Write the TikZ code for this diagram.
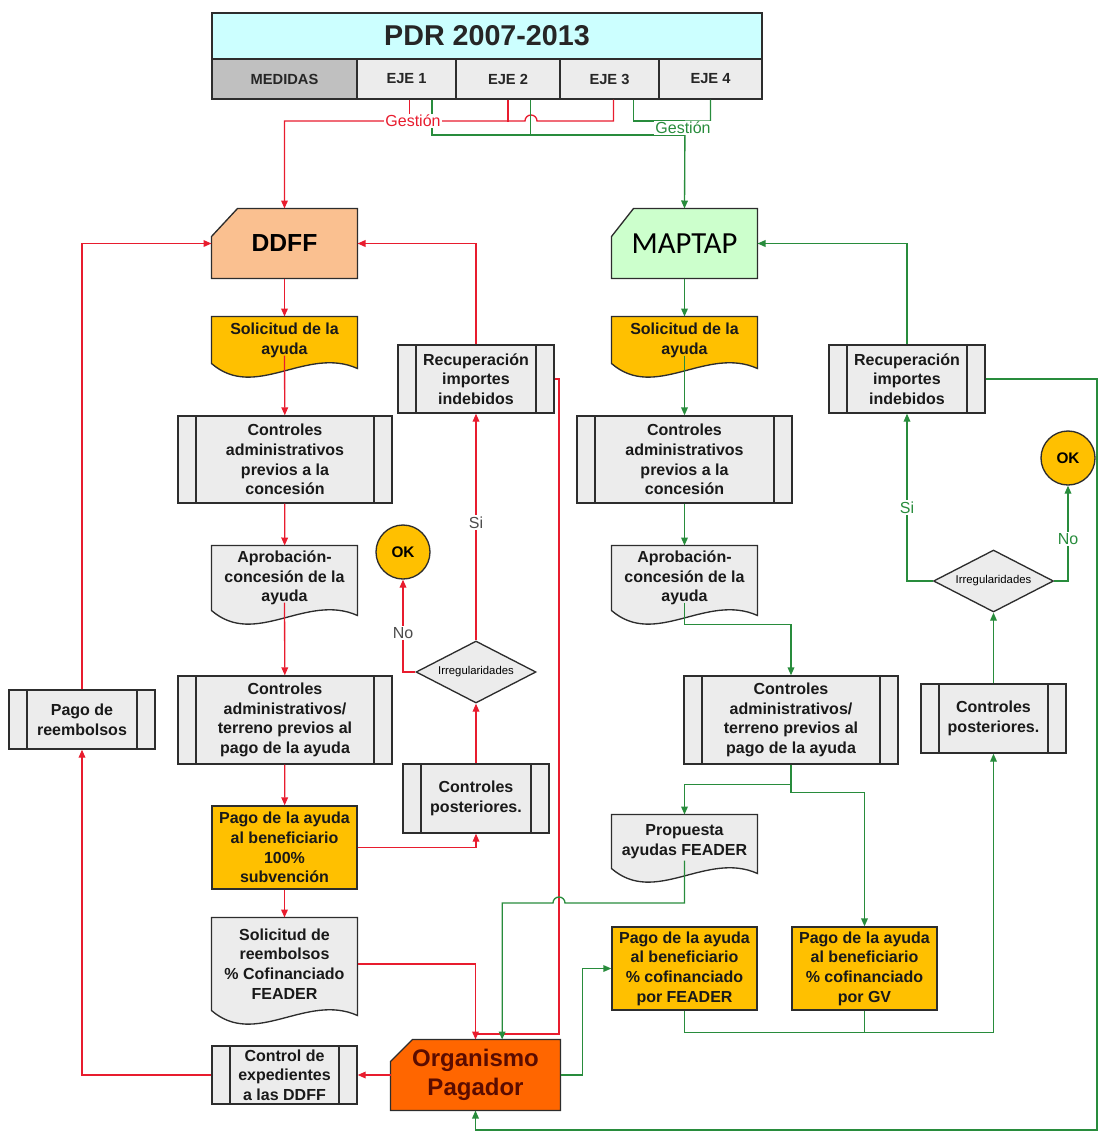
\documentclass[tikz,border=0pt]{standalone}
\usepackage{fontspec}
\setmainfont{Liberation Sans}
\newfontfamily\mapfont{Carlito}
\usetikzlibrary{arrows.meta,calc,backgrounds,shapes.geometric}

\definecolor{boxline}{RGB}{45,45,45}
\definecolor{boxgray}{RGB}{236,236,236}
\definecolor{gold}{RGB}{255,192,0}
\definecolor{peach}{RGB}{250,192,144}
\definecolor{mint}{RGB}{204,255,204}
\definecolor{orangeop}{RGB}{255,102,0}
\definecolor{cyanhead}{RGB}{204,255,255}
\definecolor{medgray}{RGB}{192,192,192}
\definecolor{linered}{RGB}{232,28,46}
\definecolor{linegreen}{RGB}{40,140,60}
\definecolor{optext}{RGB}{90,12,0}

\tikzset{every picture/.style={line width=0.75pt}}
\tikzset{
	sz/.style 2 args={minimum width=#1*0.75pt, minimum height=#2*0.75pt},
	boxtxt/.style={font=\fontsize{12}{14.8}\selectfont\bfseries, text=black!90, align=center, inner sep=0pt},
	procbox/.style={boxtxt, draw=boxline, line width=1pt, fill=boxgray,
		path picture={\draw[boxline, line width=1pt]
			([xshift=13.5pt]path picture bounding box.north west) -- ([xshift=13.5pt]path picture bounding box.south west)
			([xshift=-13.5pt]path picture bounding box.north east) -- ([xshift=-13.5pt]path picture bounding box.south east);}},
	goldbox/.style={boxtxt, draw=boxline, line width=1pt, fill=gold},
	docbox/.style={boxtxt},
	cutnode/.style={inner sep=0pt, align=center},
	headcell/.style={draw=boxline, line width=1pt, text=black!85, inner sep=0pt, font=\fontsize{11}{13}\selectfont\bfseries},
	okcirc/.style={circle, draw=boxline, line width=1pt, fill=gold, minimum size=40.5pt, inner sep=0pt, font=\fontsize{11.5}{13}\selectfont\bfseries},
	decis/.style={diamond, aspect=2, draw=boxline, line width=1pt, fill=boxgray, inner sep=0pt, font=\fontsize{8.5}{10}\selectfont},
	lbl/.style={fill=white, inner sep=1pt, font=\fontsize{12}{14}\selectfont},
	rline/.style={draw=linered, line width=1pt},
	rarr/.style={rline, -{Triangle[length=6pt,width=5pt]}},
	gline/.style={draw=linegreen, line width=1pt},
	garr/.style={gline, -{Triangle[length=6pt,width=5pt]}}
}

% document shape: wavy bottom, drawn behind the node
\newcommand{\docwave}[2]{%
	\begin{pgfonlayer}{background}
		\filldraw[fill=#2, draw=boxline, line width=1pt] ($(#1.south east)+(0,5)$) -- (#1.north east) -- (#1.north west) -- (#1.south west)
		.. controls ($(#1.south west)!0.3!(#1.south east)+(0,38)$) and ($(#1.south west)!0.65!(#1.south east)+(0,-18)$) .. ($(#1.south east)+(0,5)$) -- cycle;
	\end{pgfonlayer}}
% box with cut top left corner
\newcommand{\cutbox}[4]{%
	\begin{pgfonlayer}{background}
		\filldraw[fill=#2, draw=boxline, line width=1pt] ($(#1.north west)+(0,#4)$) -- ($(#1.north west)+(#3,0)$) -- (#1.north east) -- (#1.south east) -- (#1.south west) -- cycle;
	\end{pgfonlayer}}

\begin{document}
\begin{tikzpicture}[x=0.75pt,y=0.75pt,yscale=-1,xscale=1]
	\useasboundingbox (0,0) rectangle (1099,1133);

	% Header
	\node[headcell, fill=cyanhead, sz={550}{46}, font=\fontsize{21.5}{24}\selectfont\bfseries] (title) at (487,36) {PDR 2007-2013};
	\node[headcell, fill=medgray, sz={145}{40}] (medidas) at (284.5,79) {MEDIDAS};
	\node[headcell, fill=boxgray, sz={99}{40}] (eje1) at (406.5,79) {EJE 1};
	\node[headcell, fill=boxgray, sz={104}{40}] (eje2) at (508,79) {EJE 2};
	\node[headcell, fill=boxgray, sz={99}{40}] (eje3) at (609.5,79) {EJE 3};
	\node[headcell, fill=boxgray, sz={103}{40}] (eje4) at (710.5,79) {EJE 4};

	% Left column: DDFF
	\node[cutnode, sz={145}{69}, font=\fontsize{18.5}{20}\selectfont\bfseries] (ddff) at (284.5,243.5) {DDFF};
	\node[docbox, sz={145}{46}] (sol1) at (284.5,340) {Solicitud de la\\ayuda};
	\node[procbox, sz={214}{87}] (ctr1) at (285,459.5) {Controles\\administrativos\\previos a la\\concesión};
	\node[docbox, sz={145}{64}] (apr1) at (284.5,578) {Aprobación-\\concesión de la\\ayuda};
	\node[procbox, sz={214}{88}] (ter1) at (285,720) {Controles\\administrativos/\\terreno previos al\\pago de la ayuda};
	\node[goldbox, sz={145}{83}] (pago1) at (284.5,847.5) {Pago de la ayuda\\al beneficiario\\100\%\\subvención};
	\node[docbox, sz={145}{92}] (reem) at (284.5,964) {Solicitud de\\reembolsos\\\% Cofinanciado\\FEADER};
	\node[procbox, sz={145}{58}] (cexp) at (284.5,1075) {Control de\\expedientes\\a las DDFF};
	\node[cutnode, sz={169}{70}, text=optext, font=\fontsize{18}{22}\selectfont\bfseries] (orgp) at (475.5,1075) {Organismo\\Pagador};
	\node[procbox, sz={146}{59}] (preem) at (82,719.5) {Pago de\\reembolsos};
	\node[procbox, sz={156}{68}] (rec1) at (476,379) {Recuperación\\importes\\indebidos};
	\node[okcirc] (ok1) at (403,552) {OK};
	\node[decis, sz={120}{62}] (irr1) at (476,672) {Irregularidades};
	\node[procbox, sz={146}{69}] (cpos1) at (476,798.5) {Controles\\posteriores.};

	% Right column: MAPTAP
	\node[cutnode, sz={145}{69}, font=\mapfont\fontsize{23}{25}\selectfont] (maptap) at (684.5,243.5) {MAPTAP};
	\node[docbox, sz={145}{46}] (sol2) at (684.5,340) {Solicitud de la\\ayuda};
	\node[procbox, sz={215}{87}] (ctr2) at (684.5,459.5) {Controles\\administrativos\\previos a la\\concesión};
	\node[docbox, sz={145}{64}] (apr2) at (684.5,578) {Aprobación-\\concesión de la\\ayuda};
	\node[procbox, sz={214}{88}] (ter2) at (791,720) {Controles\\administrativos/\\terreno previos al\\pago de la ayuda};
	\node[docbox, sz={145}{53}] (prop) at (684.5,841.5) {Propuesta\\ayudas FEADER};
	\node[goldbox, sz={145}{83}] (pfea) at (684.5,968.5) {Pago de la ayuda\\al beneficiario\\\% cofinanciado\\por FEADER};
	\node[goldbox, sz={145}{83}] (pgv) at (864.5,968.5) {Pago de la ayuda\\al beneficiario\\\% cofinanciado\\por GV};
	\node[procbox, sz={145}{69}] (cpos2) at (993.5,718.5) {Controles\\posteriores.};
	\node[decis, sz={120}{62}] (irr2) at (993.5,581) {Irregularidades};
	\node[okcirc] (ok2) at (1068,458) {OK};
	\node[procbox, sz={156}{68}] (rec2) at (907,379) {Recuperación\\importes\\indebidos};

	% Shapes behind the nodes
	\docwave{sol1}{gold}
	\docwave{apr1}{boxgray}
	\docwave{reem}{boxgray}
	\docwave{sol2}{gold}
	\docwave{apr2}{boxgray}
	\docwave{prop}{boxgray}
	\cutbox{ddff}{peach}{26}{28}
	\cutbox{maptap}{mint}{22}{28}
	\cutbox{orgp}{orangeop}{22}{22}

	\coordinate (gj1) at (685,121);
	\coordinate (gj2) at (685,135);
	\coordinate (rj) at (559,1034);
	\coordinate (edge) at (1097,1130);

	% Gestion lines from the header
	\draw[rline] ([xshift=2pt]eje1.south) -- ++(0,22);
	\draw[rline] (eje2.south) -- ++(0,22);
	\draw[rarr] ([xshift=3pt]eje3.south) |- (537,121) arc[start angle=0, end angle=-180, radius=6] -| (ddff.north);
	\draw[gline] ([xshift=19pt]eje1.south) |- (gj2);
	\draw[gline] ([xshift=17pt]eje2.south) -- ++(0,36);
	\draw[gline] ([xshift=18pt]eje3.south) |- (gj1);
	\draw[garr] (eje4.south) |- (gj1) -- (maptap.north);
	\node[lbl, text=linered] (gesr) at (413,121) {Gestión};
	\node[lbl, text=linegreen] (gesg) at (683,128) {Gestión};

	% Left flow
	\draw[rarr] (ddff) -- (sol1);
	\draw[rarr] ([yshift=-6pt]sol1.south) -- (ctr1);
	\draw[rarr] (ctr1) -- (apr1);
	\draw[rarr] ([yshift=-6pt]apr1.south) -- (ter1);
	\draw[rarr] (ter1) -- (pago1);
	\draw[rarr] (pago1) -- (reem);
	\draw[rarr] (pago1.east) -| (cpos1.south);
	\draw[rarr] (cpos1) -- (irr1);
	\draw[rarr] (irr1) -- (rec1) node[lbl, text=black!70, pos=0.52] (si1) {Si};
	\draw[rarr] (irr1.west) -| (ok1.south) node[lbl, text=black!70, pos=0.71] (no1) {No};
	\draw[rarr] (rec1.north) |- (ddff.east);
	\draw[rline] (rec1.east) -| (rj) -- (rj -| orgp.north);
	\draw[rarr] (reem.east) -| (orgp.north);
	\draw[rarr] (orgp.west) -- (cexp.east);
	\draw[rarr] (cexp.west) -| (preem.south);
	\draw[rarr] (preem.north) |- (ddff.west);

	% Right flow
	\draw[garr] (maptap) -- (sol2);
	\draw[garr] ([yshift=-6pt]sol2.south) -- (ctr2);
	\draw[garr] (ctr2) -- (apr2);
	\draw[garr] ([yshift=-6pt]apr2.south) -- ++(0,22) -| (ter2.north);
	\draw[garr] (ter2.south) -- ++(0,20) -| (prop.north);
	\draw[garr] (ter2.south) -- ++(0,28) -| (pgv.north);
	\draw[garr] ([yshift=-6pt]prop.south) |- (565,903) arc[start angle=0, end angle=-180, radius=6] -| ([xshift=20pt]orgp.north);
	\draw[garr] (orgp.east) -- ++(22,0) |- (pfea.west);
	\draw[garr] (pfea.south) -- ++(0,22) -| (cpos2.south);
	\draw[gline] (pgv.south) -- ++(0,22);
	\draw[garr] (cpos2) -- (irr2);
	\draw[garr] (irr2.west) -| (rec2.south) node[lbl, text=linegreen, pos=0.72] (si2) {Si};
	\draw[garr] (irr2.east) -| (ok2.south) node[lbl, text=linegreen, pos=0.72] (no2) {No};
	\draw[garr] (rec2.north) |- (maptap.east);
	\draw[garr] (rec2.east) -| (edge) -| (orgp.south);

\end{tikzpicture}
\end{document}
